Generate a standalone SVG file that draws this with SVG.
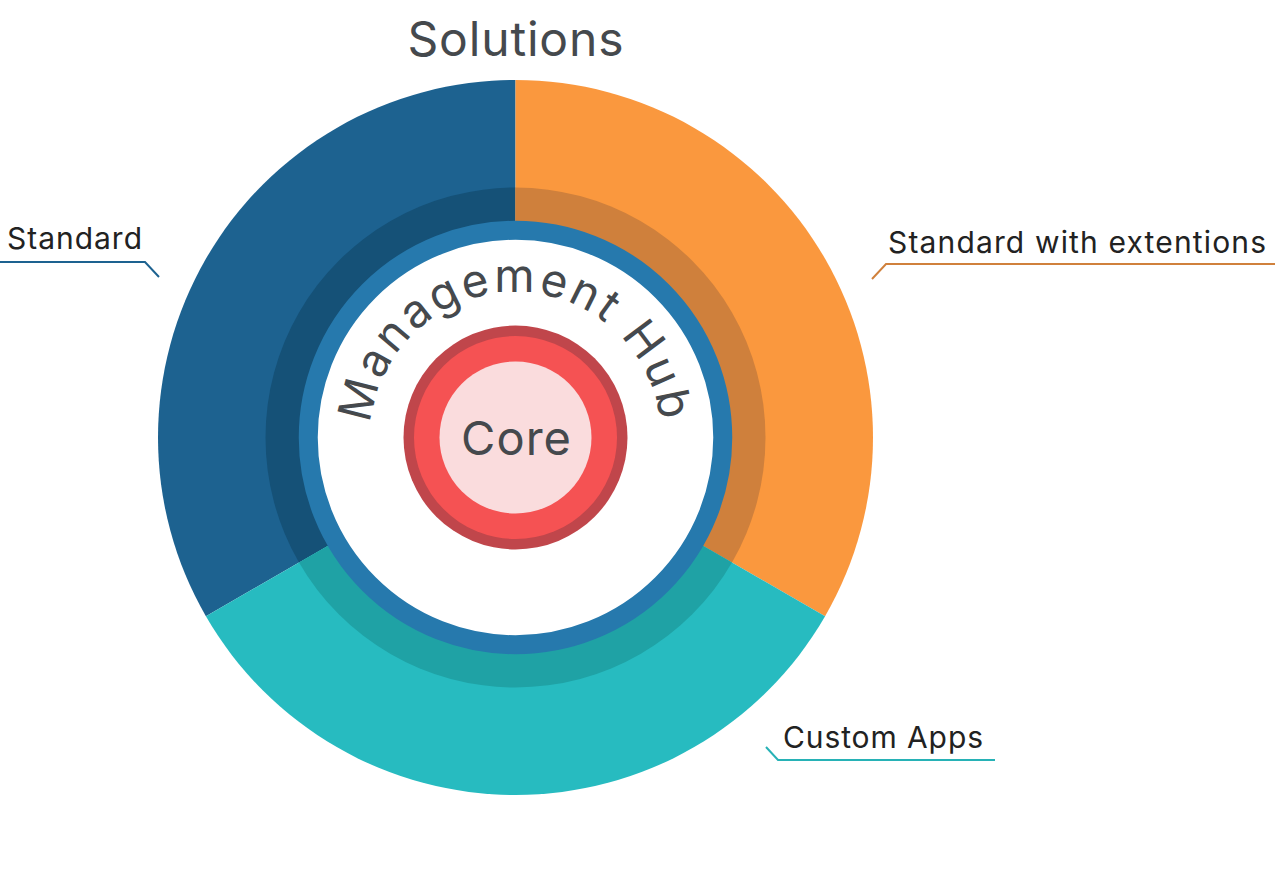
<svg xmlns="http://www.w3.org/2000/svg" width="1275" height="875" viewBox="0 0 1275 875">
<style>
.lbl{font-family:Inter,"Liberation Sans",sans-serif;font-size:30px;fill:#222;}
.ttl{font-family:Inter,"Liberation Sans",sans-serif;fill:#45494d;}
.lead{fill:none;stroke-width:2;}
</style>
<defs>
<path id="hubArc" d="M370,437.5 A145.5,145.5 0 0 1 661,437.5"/>
</defs>
<rect width="1275" height="875" fill="#ffffff"/>
<text class="ttl" x="515.5" y="56" font-size="48" text-anchor="middle" textLength="216" lengthAdjust="spacing">Solutions</text>
<g id="seg-standard">
<path d="M515.5,437.5 L205.9,616.25 A357.5,357.5 0 0 1 515.5,80 Z" fill="#1d6290"/>
<path d="M515.5,437.5 L299,562.5 A250,250 0 0 1 515.5,187.5 Z" fill="#155177"/>
</g>
<g id="seg-extensions">
<path d="M515.5,437.5 L515.5,80 A357.5,357.5 0 0 1 825.1,616.25 Z" fill="#fa983e"/>
<path d="M515.5,437.5 L515.5,187.5 A250,250 0 0 1 732,562.5 Z" fill="#cf803c"/>
</g>
<g id="seg-custom">
<path d="M515.5,437.5 L825.1,616.25 A357.5,357.5 0 0 1 205.9,616.25 Z" fill="#27bbc0"/>
<path d="M515.5,437.5 L732,562.5 A250,250 0 0 1 299,562.5 Z" fill="#1fa2a5"/>
</g>
<g id="hub">
<circle cx="515.5" cy="437.5" r="207.25" fill="#ffffff" stroke="#2679ad" stroke-width="19"/>
<text class="ttl" font-size="46" letter-spacing="3"><textPath href="#hubArc" startOffset="50%" text-anchor="middle">Management Hub</textPath></text>
</g>
<g id="core">
<circle cx="515.5" cy="437.5" r="112" fill="#c0464b"/>
<circle cx="515.5" cy="437.5" r="101.5" fill="#f55253"/>
<circle cx="515.5" cy="437.5" r="76" fill="#fadcdd"/>
<text class="ttl" x="516" y="455" font-size="47" text-anchor="middle" textLength="110" lengthAdjust="spacing">Core</text>
</g>
<g id="connectors">
<polyline class="lead" points="0,262 145,262 159,277" stroke="#1d6290"/>
<polyline class="lead" points="872,279 886,264 1275,264" stroke="#d0813c"/>
<polyline class="lead" points="766,747 778,760 995,760" stroke="#27b2b6"/>
</g>
<g id="label-standard"><text class="lbl" x="7" y="249" textLength="135" lengthAdjust="spacing">Standard</text></g>
<g id="label-extensions"><text class="lbl" x="888" y="253" textLength="378" lengthAdjust="spacing">Standard with extentions</text></g>
<g id="label-custom"><text class="lbl" x="783" y="748" textLength="200" lengthAdjust="spacing">Custom Apps</text></g>
</svg>
